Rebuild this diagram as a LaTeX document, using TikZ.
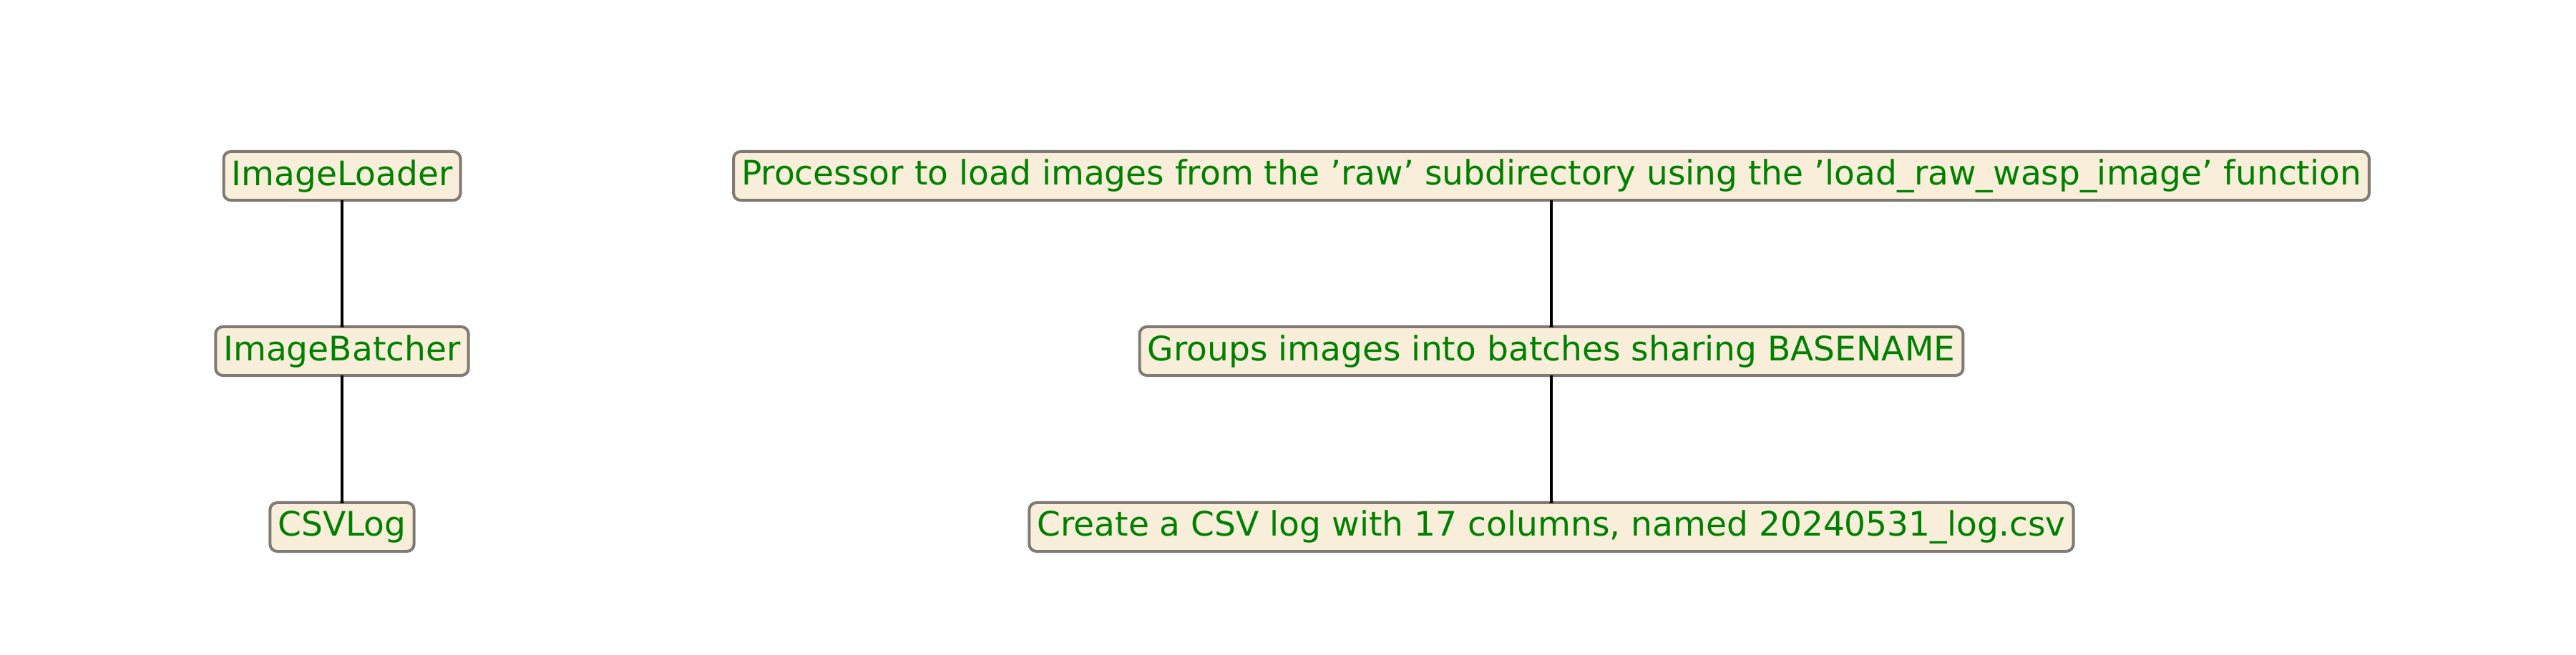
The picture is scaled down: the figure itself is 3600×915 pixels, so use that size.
\documentclass[tikz,border=0pt]{standalone}
\usepackage{fontspec}
\setmainfont{DejaVu Sans}
\usetikzlibrary{calc}
\definecolor{boxfill}{HTML}{F8EED9}
\definecolor{boxdraw}{HTML}{7F7A74}
\definecolor{txt}{HTML}{008000}
\definecolor{arrfill}{HTML}{1F77B4}
\tikzset{
  box/.style={draw=boxdraw, fill=boxfill, line width=0.04cm, rounded corners=0.1cm,
    text=txt, font=\fontsize{13.4pt}{16pt}\selectfont, minimum height=0.68cm, inner xsep=0.11cm, inner ysep=0pt},
  fat/.style={draw=black, fill=arrfill, line width=0.035cm, line join=miter}
}
\newcommand{\fatarrow}[2]{%
  \draw[fat] ($(#1.south)+(-0.045,-0.08)$) -- ($(#1.south)+(0.045,-0.08)$)
    -- ($(#2.north)+(0.045,0.58)$) -- ($(#2.north)+(0.11,0.58)$)
    -- ($(#2.north)+(0,0.35)$) -- ($(#2.north)+(-0.11,0.58)$)
    -- ($(#2.north)+(-0.045,0.58)$) -- cycle;}
\begin{document}
\begin{tikzpicture}[x=0.01cm,y=-0.01cm]
\useasboundingbox (0,0) rectangle (3600,915);
\node[box] (l1) at (478,246) {ImageLoader};
\node[box] (l2) at (478,491) {ImageBatcher};
\node[box] (l3) at (478,737) {CSVLog};
\node[box] (r1) at (2168,246) {Processor to load images from the 'raw' subdirectory using the 'load\_raw\_wasp\_image' function};
\node[box] (r2) at (2168,491) {Groups images into batches sharing BASENAME};
\node[box] (r3) at (2168,737) {Create a CSV log with 17 columns, named 20240531\_log.csv};
\fatarrow{l1}{l2}
\fatarrow{l2}{l3}
\fatarrow{r1}{r2}
\fatarrow{r2}{r3}
\end{tikzpicture}
\end{document}
